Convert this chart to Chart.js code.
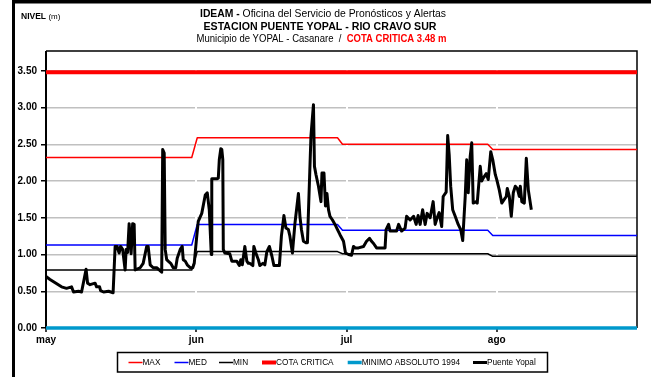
<!DOCTYPE html>
<html>
<head>
<meta charset="utf-8">
<script src="https://cdn.jsdelivr.net/npm/chart.js@4.4.1/dist/chart.umd.min.js"></script>
<style>
  html, body { margin: 0; padding: 0; background: #fff; }
  #wrap { width: 651px; height: 377px; position: relative; }
</style>
</head>
<body>
<div id="wrap"><canvas id="c" width="651" height="377"></canvas></div>
<script>
// Month ticks along the day axis
const monthLabels = ['may', 'jun', 'jul', 'ago'];
const monthTickDay = [0, 30, 60, 90];
const yTicks = [0, 0.5, 1.0, 1.5, 2.0, 2.5, 3.0, 3.5];

// Monthly reference levels (MAX / MED / MIN), stepping at month changes
const statDay  = [0, 29.1, 30.2, 58.2, 59.2, 88.2, 89.2, 118];
const maxNivel = [2.32, 2.32, 2.59, 2.59, 2.50, 2.50, 2.43, 2.43];
const medNivel = [1.13, 1.13, 1.41, 1.41, 1.33, 1.33, 1.26, 1.26];
const minNivel = [0.79, 0.79, 1.04, 1.04, 1.01, 1.01, 0.975, 0.975];

// Fixed levels
const lineDay = [0, 118];
const cotaCritica = [3.48, 3.48];
const minimoAbsoluto = [0.0, 0.0];

// Puente Yopal readings
const puenteDay = [
  0, 0.8, 3.1, 4.1, 5.1, 5.5, 6.5, 7.1, 7.6, 8.0, 8.3, 8.8, 9.8, 10.1, 10.7, 10.9, 11.5, 12.5, 13.4,
  13.8, 14.2, 14.6, 14.9, 15.3, 15.8, 16.0, 16.3, 16.6, 17.0, 17.3, 17.6, 17.8, 18.8, 19.4, 20.1, 20.4,
  20.8, 21.4, 22.1, 22.6, 23.1, 23.3, 23.6, 23.8, 24.1, 24.4, 24.9, 25.4, 25.9, 26.2, 26.8, 27.2, 27.4,
  27.8, 28.2, 28.8, 29.3, 29.6, 30.1, 30.4, 31.1, 31.8, 32.2, 32.6, 33.0, 33.1, 34.1, 34.4, 34.6, 34.9,
  35.1, 35.3, 35.4, 35.7, 36.7, 37.1, 38.1, 38.6, 38.9, 39.2, 39.7, 40.1, 40.4, 40.7, 41.3, 41.5, 41.9,
  42.4, 42.7, 43.3, 43.7, 44.1, 44.6, 45.1, 45.5, 46.6, 47.0, 47.5, 47.9, 48.4, 48.7, 49.2, 49.7, 50.4,
  50.7, 51.0, 51.4, 51.9, 52.2, 52.9, 53.4, 53.6, 53.9, 54.4, 54.9, 55.1, 55.5, 55.8, 56.1, 56.4, 56.7,
  57.2, 57.7, 58.2, 58.7, 59.4, 59.8, 60.4, 61.0, 61.4, 61.7, 62.4, 63.4, 64.0, 64.6, 65.0, 65.4, 66.0,
  67.7, 67.9, 68.4, 68.7, 70.0, 70.4, 71.0, 71.7, 72.0, 72.7, 73.4, 73.9, 74.3, 74.7, 75.2, 75.7, 76.1,
  76.7, 77.0, 77.3, 77.7, 78.1, 78.5, 79.0, 79.3, 79.9, 80.2, 80.5, 80.8, 81.2, 81.7, 82.3, 82.8, 83.2,
  83.7, 84.0, 84.3, 84.7, 85.0, 85.3, 85.9, 86.1, 86.7, 87.0, 87.3, 87.9, 88.3, 88.8, 89.2, 89.7, 90.0,
  90.5, 91.0, 91.5, 91.9, 92.1, 92.5, 92.9, 93.3, 93.7, 94.1, 94.5, 94.7, 95.0, 95.5, 95.9, 96.3, 96.9
];
const puenteNivel = [
  0.70, 0.66, 0.56, 0.54, 0.56, 0.49, 0.50, 0.49, 0.66, 0.80, 0.61, 0.59, 0.61, 0.56, 0.56, 0.51, 0.49, 0.50, 0.48,
  1.11, 1.11, 1.02, 1.11, 1.07, 0.79, 1.07, 1.03, 1.42, 1.01, 1.42, 1.41, 0.79, 0.82, 0.88, 1.11, 1.11,
  0.86, 0.82, 0.82, 0.79, 0.76, 2.43, 2.38, 1.07, 0.93, 0.91, 0.88, 0.82, 0.82, 0.95, 1.07, 1.11, 0.93,
  0.91, 0.86, 0.82, 0.82, 0.88, 1.25, 1.45, 1.56, 1.81, 1.84, 1.61, 1.00, 2.03, 2.03, 2.04, 2.29, 2.44,
  2.43, 2.29, 1.07, 1.02, 1.01, 0.91, 0.91, 0.85, 0.93, 0.86, 1.11, 0.91, 0.88, 0.88, 0.85, 1.11, 1.02,
  0.93, 0.85, 0.88, 0.86, 1.04, 1.11, 0.98, 0.85, 0.85, 1.25, 1.53, 1.36, 1.34, 1.25, 1.02, 1.42, 1.83,
  1.52, 1.34, 1.18, 1.16, 1.16, 2.61, 3.04, 2.20, 2.09, 1.93, 1.72, 2.11, 2.11, 1.66, 1.83, 1.61, 1.52,
  1.47, 1.41, 1.34, 1.27, 1.18, 1.02, 1.00, 0.99, 1.11, 1.09, 1.09, 1.11, 1.18, 1.22, 1.18, 1.15, 1.09,
  1.09, 1.34, 1.41, 1.32, 1.32, 1.41, 1.32, 1.36, 1.52, 1.47, 1.52, 1.41, 1.53, 1.41, 1.61, 1.41, 1.56,
  1.50, 1.61, 1.72, 1.41, 1.50, 1.57, 1.38, 1.79, 1.85, 2.62, 2.36, 1.93, 1.61, 1.52, 1.41, 1.34, 1.19,
  1.79, 2.29, 1.84, 2.34, 2.52, 1.70, 1.72, 1.70, 2.20, 2.00, 2.04, 2.10, 2.02, 2.40, 2.29, 2.09, 2.02,
  1.88, 1.70, 1.75, 1.79, 1.90, 1.79, 1.52, 1.84, 1.93, 1.90, 1.79, 1.93, 1.72, 1.70, 2.31, 1.88, 1.61
];

const FONT = "'Liberation Sans', Arial, sans-serif";
const pts = (xs, ys) => xs.map((x, i) => ({ x: x, y: ys[i] }));

const series = [
  { label: 'MAX', data: pts(statDay, maxNivel), color: '#ff0000', width: 1.5, order: 3 },
  { label: 'MED', data: pts(statDay, medNivel), color: '#0000ff', width: 1.5, order: 3 },
  { label: 'MIN', data: pts(statDay, minNivel), color: '#000000', width: 1.5, order: 3 },
  { label: 'COTA CRITICA', data: pts(lineDay, cotaCritica), color: '#ff0000', width: 4, order: 2 },
  { label: 'MINIMO ABSOLUTO 1994', data: pts(lineDay, minimoAbsoluto), color: '#0099cc', width: 3.5, order: 2 },
  { label: 'Puente Yopal', data: pts(puenteDay, puenteNivel), color: '#000000', width: 3, order: 0 }
];

// Horizontally fitted text run
function fitText(ctx, parts, cx, y, targetW) {
  let w = 0;
  parts.forEach(p => { ctx.font = p.font; w += ctx.measureText(p.text).width; });
  const s = targetW / w;
  ctx.save();
  ctx.translate(cx - targetW / 2, y);
  ctx.scale(s, 1);
  let x = 0;
  parts.forEach(p => {
    ctx.font = p.font;
    ctx.fillStyle = p.color || '#000';
    ctx.fillText(p.text, x, 0);
    x += ctx.measureText(p.text).width;
  });
  ctx.restore();
}

const decor = {
  id: 'decor',
  beforeDatasetsDraw(chart) {
    const { ctx, chartArea: a } = chart;
    ctx.save();
    ctx.strokeStyle = '#000';
    ctx.lineWidth = 1.5;
    ctx.beginPath();
    ctx.moveTo(a.left, a.top);
    ctx.lineTo(a.right, a.top);
    ctx.lineTo(a.right, a.bottom);
    ctx.stroke();
    ctx.lineWidth = 2;
    ctx.beginPath();
    ctx.moveTo(a.left, a.top);
    ctx.lineTo(a.left, a.bottom);
    ctx.stroke();
    ctx.restore();
  },
  afterDraw(chart) {
    const ctx = chart.ctx;
    ctx.save();
    // outer frame
    ctx.fillStyle = '#000';
    ctx.fillRect(12, 0, 651, 3.5);
    ctx.fillRect(12, 0, 3, 377);

    // titles
    ctx.textBaseline = 'middle';
    ctx.textAlign = 'left';
    fitText(ctx, [
      { text: 'IDEAM - ', font: 'bold 10.5px ' + FONT },
      { text: 'Oficina del Servicio de Pronósticos y Alertas', font: '10.5px ' + FONT }
    ], 323, 14.5, 246);
    fitText(ctx, [
      { text: 'ESTACION PUENTE YOPAL - RIO CRAVO SUR', font: 'bold 10.5px ' + FONT }
    ], 320, 27, 233);
    fitText(ctx, [
      { text: 'Municipio de YOPAL - Casanare  /  ', font: '10.5px ' + FONT },
      { text: 'COTA CRITICA 3.48 m', font: 'bold 10.5px ' + FONT, color: '#ff0000' }
    ], 321.5, 39.5, 250);

    // axis unit
    ctx.fillStyle = '#000';
    ctx.font = 'bold 8.5px ' + FONT;
    ctx.fillText('NIVEL', 21, 17);
    const nw = ctx.measureText('NIVEL ').width;
    ctx.font = '8px ' + FONT;
    ctx.fillText('(m)', 21 + nw, 17);

    // legend
    const lx = [128.5, 174.5, 219, 262, 347.7, 473];
    const ly = 362.5;
    ctx.strokeStyle = '#000';
    ctx.lineWidth = 1.5;
    ctx.strokeRect(117.5, 352.5, 430, 19.5);
    ctx.font = '8.25px ' + FONT;
    series.forEach((s, i) => {
      ctx.strokeStyle = s.color;
      ctx.lineWidth = s.width;
      ctx.beginPath();
      ctx.moveTo(lx[i], ly);
      ctx.lineTo(lx[i] + 14, ly);
      ctx.stroke();
      ctx.fillStyle = '#000';
      ctx.fillText(s.label, lx[i] + 14, ly + 0.5);
    });
    ctx.restore();
  }
};

new Chart(document.getElementById('c'), {
  type: 'line',
  data: {
    datasets: series.map(s => ({
      label: s.label,
      data: s.data,
      borderColor: s.color,
      backgroundColor: s.color,
      borderWidth: s.width,
      pointRadius: 0,
      tension: 0,
      fill: false,
      order: s.order,
      clip: false,
      borderJoinStyle: 'round',
      borderCapStyle: 'butt'
    }))
  },
  options: {
    responsive: false,
    animation: false,
    devicePixelRatio: 1,
    layout: { padding: { top: 51, right: 14, left: 0, bottom: 0 } },
    plugins: { legend: { display: false }, title: { display: false }, tooltip: { enabled: false } },
    scales: {
      x: {
        type: 'linear',
        min: 0,
        max: 118,
        afterBuildTicks: s => { s.ticks = monthTickDay.map(v => ({ value: v })); },
        afterFit: s => { s.height = 49; },
        ticks: {
          autoSkip: false,
          maxRotation: 0,
          padding: 2,
          color: '#000',
          font: { family: FONT, size: 10, weight: 'bold' },
          callback: v => monthLabels[monthTickDay.indexOf(v)]
        },
        grid: { color: '#ffffff', lineWidth: 2, tickColor: '#000', tickLength: 4, tickWidth: 1.5, z: 0 },
        border: { display: false }
      },
      y: {
        min: 0,
        max: 3.77,
        afterBuildTicks: s => { s.ticks = yTicks.map(v => ({ value: v })); },
        afterFit: s => { s.width = 46; },
        ticks: {
          padding: 4,
          color: '#000',
          font: { family: FONT, size: 10, weight: 'bold' },
          callback: v => Number(v).toFixed(2)
        },
        grid: { color: '#c0c0c0', lineWidth: 1.5, tickColor: '#000', tickLength: 5, tickWidth: 1.5 },
        border: { display: false }
      }
    }
  },
  plugins: [decor]
});
</script>
</body>
</html>
